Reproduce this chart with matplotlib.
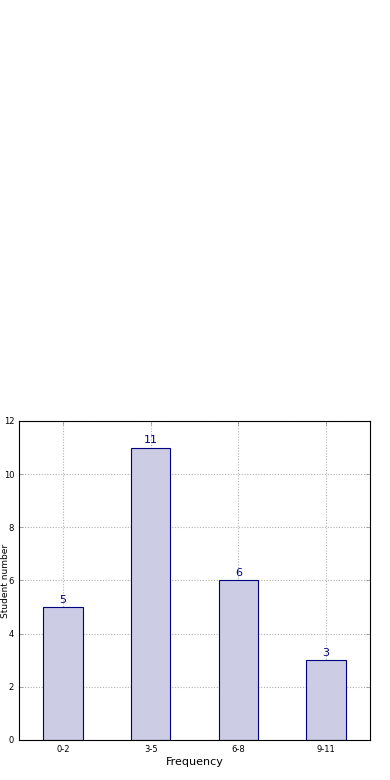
import numpy as np
import matplotlib
matplotlib.use("Agg")
import matplotlib.pyplot as plt

# data
categories = ["0-2", "3-5", "6-8", "9-11"]
counts = [5, 11, 6, 3]

fig = plt.figure(figsize=(3.9, 7.8), dpi=100, facecolor="white")
ax = fig.add_axes([0.0487, 0.0513, 0.9, 0.409])

x = np.arange(len(categories))
ax.bar(x, counts, width=0.45, color="#cccce4", edgecolor="navy", linewidth=0.8, zorder=2)

for xi, c in zip(x, counts):
    ax.text(xi, c + 0.08, str(c), ha="center", va="bottom", color="navy", fontsize=8)

ax.set_xlim(-0.5, 3.5)
ax.set_ylim(0, 12)
ax.set_xticks(x)
ax.set_xticklabels(categories, fontsize=6)
ax.set_yticks(range(0, 13, 2))
ax.tick_params(axis="y", labelsize=6)
ax.tick_params(direction="in", top=True, right=True, length=3, width=0.5, color="#888888")
ax.grid(True, linestyle=(0, (1, 1.5)), color="#b0b0b0", linewidth=0.8, zorder=0)
ax.set_axisbelow(True)
for s in ax.spines.values():
    s.set_linewidth(0.8)

ax.set_xlabel("Frequency", fontsize=8, labelpad=2)
ax.set_ylabel("Student number", fontsize=6.5)
ax.yaxis.set_label_coords(-0.026, 0.5)

fig.savefig("out.png", dpi=100, facecolor="white")
